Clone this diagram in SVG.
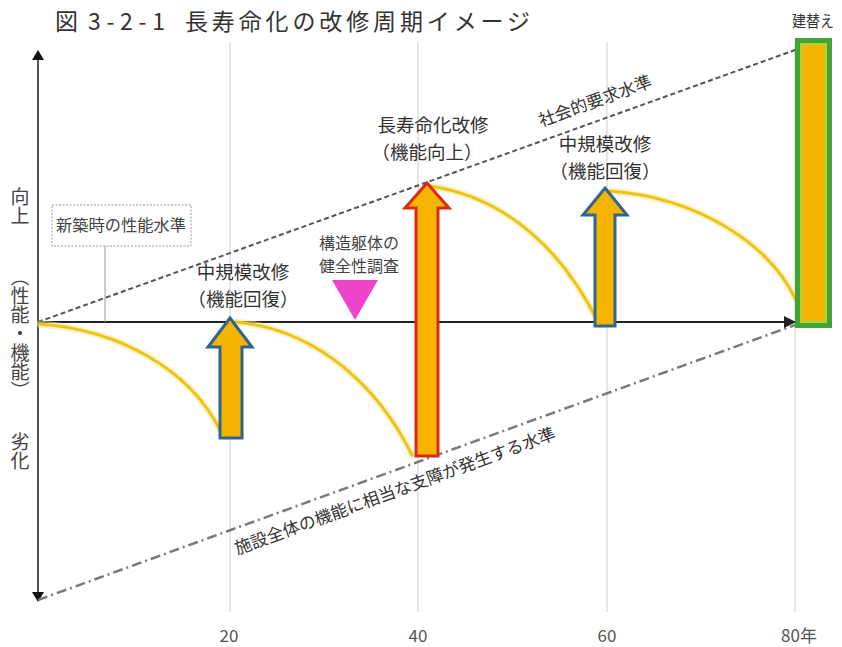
<svg xmlns="http://www.w3.org/2000/svg" width="842" height="647" viewBox="0 0 842 647">
<defs>
<style>
text{font-family:"Noto Sans CJK JP","Noto Sans",sans-serif;fill:#333}
.lbl{font-size:18.5px;text-anchor:middle}
.sm{font-size:16px;text-anchor:middle;fill:#444}
.tick{font-size:17px;text-anchor:middle;fill:#555}
.grid{stroke:#dedede;stroke-width:1.5;fill:none}
.curve{fill:none;stroke:#EEC412;stroke-width:3;stroke-linecap:round}
.glow{fill:none;stroke:#F8E59A;stroke-width:7;stroke-opacity:0.5;stroke-linecap:round}
.arrY{fill:#F5B400;stroke-width:3;stroke-linejoin:miter}
.vert{font-size:19px;writing-mode:vertical-rl;fill:#444}
</style>
<marker id="ah" viewBox="0 0 10 10" refX="10" refY="5" markerWidth="12" markerHeight="12" markerUnits="userSpaceOnUse" orient="auto">
<path d="M0,0 L10,5 L0,10 Z" fill="#222"/>
</marker>
</defs>
<rect width="842" height="647" fill="#fff"/>

<g id="title">
<text x="55" y="30" font-size="23" fill="#333">図</text>
<text x="88" y="30" font-size="23" textLength="77" lengthAdjust="spacing">3-2-1</text>
<text x="185" y="30" font-size="23" textLength="345" lengthAdjust="spacing">長寿命化の改修周期イメージ</text>
</g>

<g id="grid">
<line class="grid" x1="230" y1="42" x2="230" y2="612"/>
<line class="grid" x1="418" y1="42" x2="418" y2="612"/>
<line class="grid" x1="607" y1="42" x2="607" y2="612"/>
<line class="grid" x1="795" y1="42" x2="795" y2="612"/>
<text class="tick" x="229" y="642">20</text>
<text class="tick" x="418" y="642">40</text>
<text class="tick" x="607" y="642">60</text>
<text class="tick" x="799" y="642">80年</text>
</g>

<g id="axes">
<line x1="38" y1="60" x2="38" y2="592" stroke="#555" stroke-width="2"/>
<path d="M38,50 L44,60 L32,60 Z" fill="#111"/>
<path d="M38,602 L44,592 L32,592 Z" fill="#111"/>
<text class="vert" x="20" y="187">向上</text>
<text class="vert" x="20" y="267">（性能・機能）</text>
<text class="vert" x="20" y="432">劣化</text>
</g>

<g id="connectors">
<line x1="38" y1="322" x2="795" y2="50" stroke="#555" stroke-width="2" stroke-dasharray="5 3"/>
<line x1="38" y1="600" x2="795" y2="325" stroke="#7a7a7a" stroke-width="2.5" stroke-dasharray="10 4 2 4"/>
<line x1="38" y1="322" x2="796" y2="322" stroke="#222" stroke-width="2" marker-end="url(#ah)"/>
<line x1="105" y1="246" x2="105" y2="322" stroke="#999" stroke-width="1"/>
<path class="glow" d="M40,324 C120,330 190,370 220,430"/>
<path class="curve" d="M40,324 C120,330 190,370 220,430"/>
<path class="glow" d="M236,322 C320,330 380,390 412,455"/>
<path class="curve" d="M236,322 C320,330 380,390 412,455"/>
<path class="glow" d="M430,186 C510,198 565,255 598,322"/>
<path class="curve" d="M430,186 C510,198 565,255 598,322"/>
<path class="glow" d="M610,191 C700,198 770,245 796,300"/>
<path class="curve" d="M610,191 C700,198 770,245 796,300"/>
</g>

<g id="level-social">
<text x="0" y="6" font-size="17" text-anchor="middle" fill="#444" transform="translate(595,101) rotate(-20)">社会的要求水準</text>
</g>
<g id="level-failure">
<text x="0" y="6" font-size="17" text-anchor="middle" fill="#444" transform="translate(395,491) rotate(-20)">施設全体の機能に相当な支障が発生する水準</text>
</g>

<g id="new-level">
<rect x="52" y="205" width="139" height="41" fill="#fff" stroke="#9a9a9a" stroke-width="1" stroke-dasharray="2 1.5"/>
<text class="sm" x="121" y="231" textLength="130" lengthAdjust="spacingAndGlyphs">新築時の性能水準</text>
</g>

<g id="mid-repair-1">
<path class="arrY" stroke="#2F6690" d="M230,318 L252,347 L242,347 L242,438 L220,438 L220,347 L208,347 Z"/>
<text class="lbl" x="243" y="279">中規模改修</text>
<text class="lbl" x="243" y="306">（機能回復）</text>
</g>

<g id="inspection">
<path d="M332,280 L378,280 L355,320 Z" fill="#EE44CC"/>
<text class="sm" x="359" y="249">構造躯体の</text>
<text class="sm" x="359" y="272">健全性調査</text>
</g>

<g id="long-life-repair">
<path class="arrY" stroke="#D92A1C" stroke-width="3.5" d="M427,183 L449,208 L438,208 L438,456 L416,456 L416,208 L405,208 Z"/>
<text class="lbl" x="433" y="132">長寿命化改修</text>
<text class="lbl" x="427" y="159">（機能向上）</text>
</g>

<g id="mid-repair-2">
<path class="arrY" stroke="#2F6690" d="M605,188 L627,215 L615,215 L615,326 L595,326 L595,215 L583,215 Z"/>
<text class="lbl" x="605" y="151">中規模改修</text>
<text class="lbl" x="605" y="178">（機能回復）</text>
</g>

<g id="rebuild">
<rect x="797.5" y="40.5" width="32" height="285" fill="#F5B400" stroke="#3DA53A" stroke-width="5"/>
<rect x="801.5" y="44.5" width="24" height="277" fill="none" stroke="#B5D23A" stroke-width="2"/>
<text x="792" y="27" font-size="15.5" fill="#444" textLength="42" lengthAdjust="spacingAndGlyphs">建替え</text>
</g>
</svg>
